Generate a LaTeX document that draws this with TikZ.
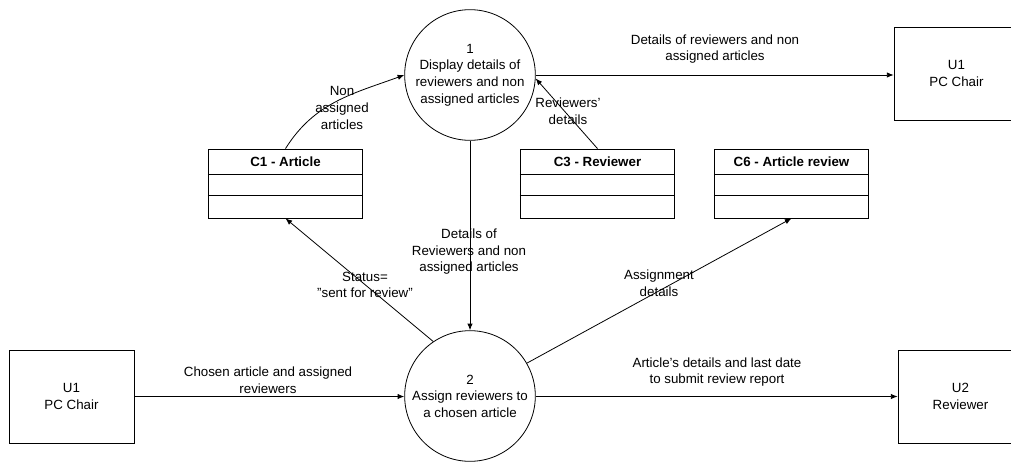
\documentclass[tikz,border=0pt]{standalone}
\usepackage{fontspec}
\setmainfont{Liberation Sans}
\usetikzlibrary{arrows.meta}
\begin{document}
\begin{tikzpicture}[x=0.75pt,y=-0.75pt,
  every node/.style={font=\fontsize{10}{12.4}\selectfont},
  proc/.style={draw,circle,line width=0.6pt,minimum size=98pt,inner sep=0pt,align=center},
  ext/.style={draw,rectangle,line width=0.6pt,minimum width=93.75pt,minimum height=69.75pt,inner sep=0pt,align=center},
  store/.style={draw,rectangle,line width=0.6pt,minimum width=116pt,minimum height=51.75pt,inner sep=0pt},
  hdr/.style={font=\fontsize{10}{12.4}\selectfont\bfseries,inner sep=0pt},
  lbl/.style={align=center,inner sep=0pt},
  flow/.style={line width=0.6pt,-{Latex[length=5pt,width=4pt]}}]
\useasboundingbox (0,0) rectangle (1011,461);
\clip (0,0) rectangle (1011,461);
\fill[white] (0,0) rectangle (1011,461);

% processes
\node[proc] (p1) at (470,75) {1\\Display details of\\reviewers and non\\assigned articles};
\node[proc] (p2) at (470,396) {2\\Assign reviewers to\\a chosen article};

% external entities
\node[ext] (u1r) at (956.5,73.5) {U1\\PC Chair};
\node[ext] (u1l) at (71.5,396.5) {U1\\PC Chair};
\node[ext] (u2) at (960.5,396.5) {U2\\Reviewer};

% data stores
\node[store] (c1) at (285.5,183.5) {};
\node[store] (c3) at (597.5,183.5) {};
\node[store] (c6) at (791.5,183.5) {};
\foreach \s/\t in {c1/{C1 - Article},c3/{C3 - Reviewer},c6/{C6 - Article review}}{
  \draw[line width=0.6pt] ([yshift=-19.5pt]\s.north west) -- ([yshift=-19.5pt]\s.north east);
  \draw[line width=0.6pt] ([yshift=-35.25pt]\s.north west) -- ([yshift=-35.25pt]\s.north east);
  \node[hdr] at ([yshift=-9.75pt]\s.north) {\t};
}

% flows
\draw[flow] (p1.east) -- (u1r.west |- p1.east);
\node[lbl] (l1) at (715,49) {Details of reviewers and non\\assigned articles};

\draw[flow] (c1.north) to[out=58,in=200] (p1.west);
\node[lbl] (l2) at (342,108) {Non\\assigned\\articles};

\draw[flow] (c3.north) -- (p1.-3);
\node[lbl] (l3) at (568,111) {Reviewers'\\details};

\draw[flow] (p1.south) -- (p2.north);
\node[lbl] (l4) at (469,252) {Details of\\Reviewers and non\\assigned articles};

\draw[flow] (p2.124) -- (c1.south);
\node[lbl] (l5) at (365,285) {Status=\\”sent for review”};

\draw[flow] (p2.30) -- (c6.south);
\node[lbl] (l6) at (659,283) {Assignment\\details};

\draw[flow] (u1l.east) -- (p2.west |- u1l.east);
\node[lbl] (l7) at (268,380) {Chosen article and assigned\\reviewers};

\draw[flow] (p2.east |- u2.west) -- (u2.west);
\node[lbl] (l8) at (717,372) {Article’s details and last date\\to submit review report};
\end{tikzpicture}
\end{document}
